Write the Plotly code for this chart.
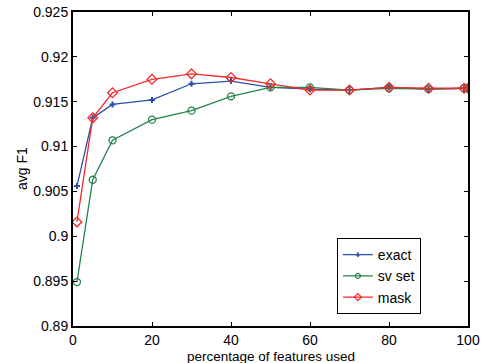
import plotly.graph_objects as go

pct = [1, 5, 10, 20, 30, 40, 50, 60, 70, 80, 90, 99, 100]
exact = [0.9056, 0.9132, 0.9147, 0.9152, 0.9170, 0.9173, 0.9166, 0.9164, 0.9163, 0.9166, 0.9164, 0.9165, 0.9165]
sv_set = [0.8949, 0.9063, 0.9107, 0.9130, 0.9140, 0.9156, 0.9166, 0.9166, 0.9163, 0.9165, 0.9164, 0.9165, 0.9165]
mask = [0.9016, 0.9132, 0.9160, 0.9175, 0.9181, 0.9177, 0.9170, 0.9163, 0.9163, 0.9166, 0.9165, 0.9165, 0.9165]

series_names = ["exact", "sv set", "mask"]
x_ticks = [0, 20, 40, 60, 80, 100]
y_ticks = [0.89, 0.895, 0.9, 0.905, 0.91, 0.915, 0.92, 0.925]
y_labels = ["0.89", "0.895", "0.9", "0.905", "0.91", "0.915", "0.92", "0.925"]
x_title = "percentage of features used"
y_title = "avg F1"

BLUE = "#2a4fa8"
GREEN = "#23844a"
RED = "#f42a2a"

FONT = "Liberation Sans, Arial, Helvetica, sans-serif"

styles = [
    (exact, BLUE, dict(symbol="cross", size=5), dict(symbol="cross", size=4)),
    (sv_set, GREEN, dict(symbol="circle-open", size=7, line=dict(width=1.3)), dict(symbol="circle-open", size=5, line=dict(width=1.2))),
    (mask, RED, dict(symbol="diamond-open", size=7.5, line=dict(width=1.3)), dict(symbol="diamond-open", size=5.5, line=dict(width=1.2))),
]

fig = go.Figure()
for name, (ys, col, mk, lmk) in zip(series_names, styles):
    fig.add_trace(go.Scatter(x=pct, y=ys, name=name, mode="lines+markers", showlegend=False,
                             line=dict(color=col, width=1.3), marker=dict(color=col, **mk)))
for name, (ys, col, mk, lmk) in zip(series_names, styles):
    fig.add_trace(go.Scatter(x=[None], y=[None], name=name, mode="lines+markers", showlegend=True,
                             line=dict(color=col, width=1.3), marker=dict(color=col, **lmk)))

axis_common = dict(showgrid=False, zeroline=False, showline=True, linecolor="black", linewidth=2,
                   mirror="ticks", ticks="inside", ticklen=4, tickwidth=1, tickcolor="black",
                   automargin=False,
                   tickfont=dict(family=FONT, size=14, color="black"))

fig.update_layout(
    width=484, height=363,
    margin=dict(l=73, r=16, t=12, b=37),
    paper_bgcolor="white", plot_bgcolor="white",
    font=dict(family=FONT, size=13, color="black"),
    xaxis=dict(range=[0, 100], tickvals=x_ticks, ticktext=[str(v) for v in x_ticks], **axis_common),
    yaxis=dict(range=[0.89, 0.925], tickvals=y_ticks, ticktext=y_labels, **axis_common),
    legend=dict(x=0.668, y=0.28, xanchor="left", yanchor="top",
                bordercolor="black", borderwidth=1, bgcolor="white",
                font=dict(size=14), itemwidth=30, tracegroupgap=0),
    showlegend=True,
    annotations=[
        dict(text=x_title, xref="paper", yref="paper", x=0.5, y=-0.096,
             xanchor="center", yanchor="middle", showarrow=False, font=dict(size=13.5)),
        dict(text=y_title, xref="paper", yref="paper", x=-0.129, y=0.5, textangle=-90,
             xanchor="center", yanchor="middle", showarrow=False, font=dict(size=14)),
    ],
)

fig.write_html("out.html")
